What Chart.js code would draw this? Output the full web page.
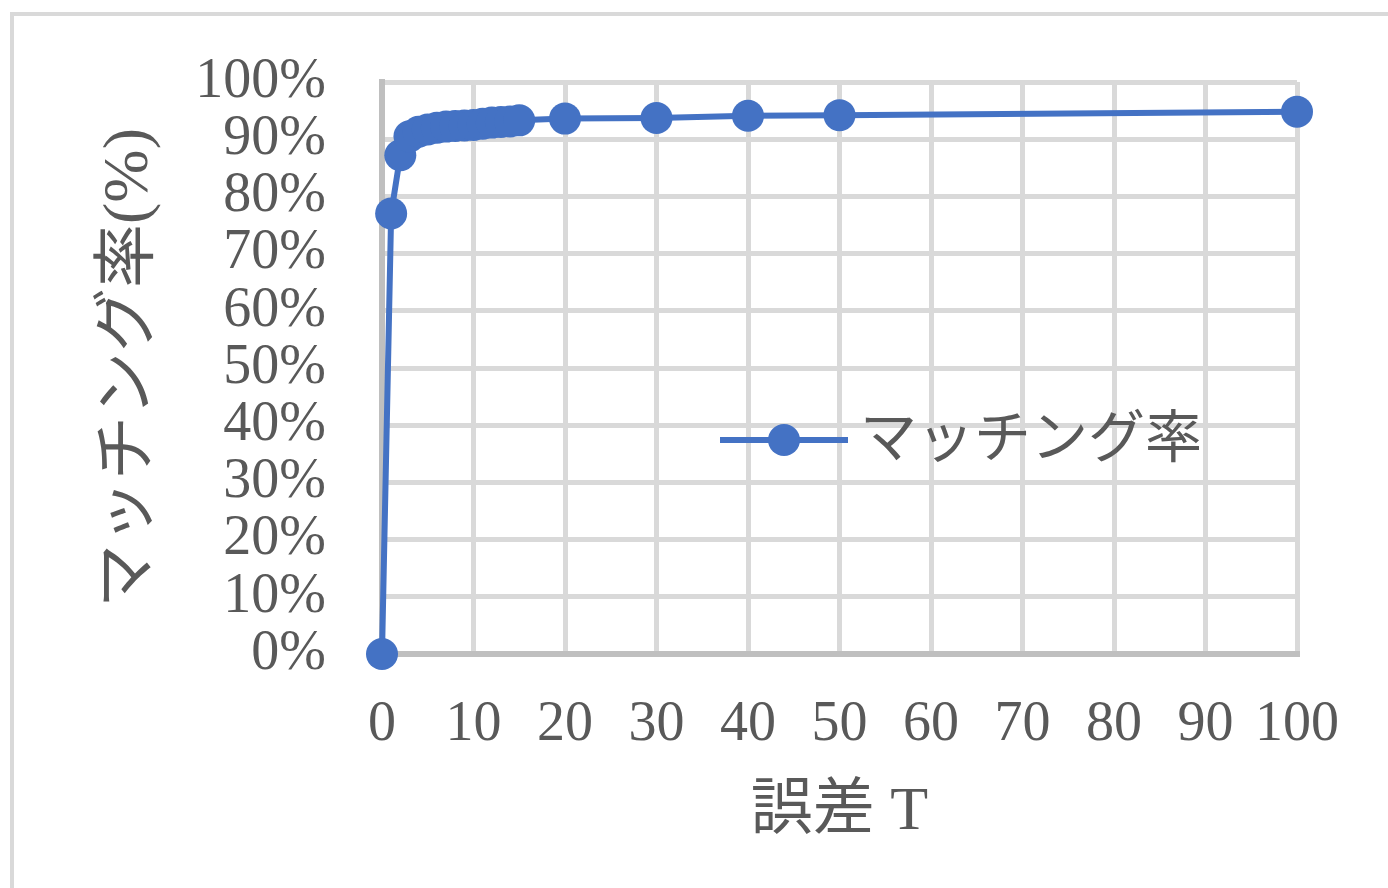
<!DOCTYPE html>
<html>
<head>
<meta charset="utf-8">
<script src="https://cdn.jsdelivr.net/npm/chart.js@4/dist/chart.umd.min.js"></script>
<style>
	html, body { margin: 0; padding: 0; background: #fff; }
	#graficoMatching { display: block; }
</style>
</head>
<body>
<canvas id="graficoMatching" width="1388" height="888"></canvas>
<script>
var erroT = [0, 1, 2, 3, 4, 5, 6, 7, 8, 9, 10, 11, 12, 13, 14, 15, 20, 30, 40, 50, 100];
var taxaMatching = [0, 77, 87.2, 90.5, 91.3, 91.7, 92.0, 92.2, 92.3, 92.4, 92.5, 92.7, 92.9, 93.0, 93.1, 93.3, 93.6, 93.7, 94.1, 94.2, 94.8];
var serieNome = 'マッチング率';
var tituloX = '誤差 T';
var tituloY = 'マッチング率(%)';

var fonte = "'Liberation Serif', 'Noto Sans CJK JP', serif";
var cinzaTexto = '#595959';
var azul = '#4472c4';

var Grafico = Grafico || {};

Grafico.MatchingPorErro = (function() {

	function MatchingPorErro() {
		this.ctx = document.getElementById('graficoMatching').getContext('2d');
	}

	// moldura cinza e legenda dentro da area do grafico
	var moldura = {
		id: 'moldura',
		beforeDraw: function(chart) {
			var c = chart.ctx;
			c.save();
			c.fillStyle = '#fff';
			c.fillRect(0, 0, chart.width, chart.height);
			c.strokeStyle = '#d9d9d9';
			c.lineWidth = 4;
			c.strokeRect(12, 14, chart.width + 20, chart.height + 20);
			c.restore();
		}
	};

	var legenda = {
		id: 'legendaInterna',
		afterDraw: function(chart) {
			var c = chart.ctx;
			var ds = chart.data.datasets[0];
			var y = 440;
			c.save();
			c.strokeStyle = ds.borderColor;
			c.lineWidth = ds.borderWidth;
			c.beginPath();
			c.moveTo(720, y);
			c.lineTo(848, y);
			c.stroke();
			c.fillStyle = ds.pointBackgroundColor;
			c.beginPath();
			c.arc(784, y, ds.pointRadius, 0, Math.PI * 2);
			c.fill();
			c.fillStyle = cinzaTexto;
			c.font = '57px ' + fonte;
			c.textBaseline = 'middle';
			c.fillText(ds.label, 860, y + 2);
			c.restore();
		}
	};

	MatchingPorErro.prototype.iniciar = function() {
		var pontos = erroT.map(function(x, i) {
			return { x: x, y: taxaMatching[i] };
		});

		new Chart(this.ctx, {
			type: 'scatter',
			data: {
				datasets: [{
					label: serieNome,
					data: pontos,
					showLine: true,
					clip: false,
					borderColor: azul,
					borderWidth: 6,
					pointBackgroundColor: azul,
					pointBorderColor: azul,
					pointBorderWidth: 0,
					pointRadius: 16,
					tension: 0
				}]
			},
			options: {
				responsive: false,
				animation: false,
				layout: { padding: { left: 0, top: 82, right: 91, bottom: 0 } },
				plugins: {
					legend: { display: false },
					tooltip: { enabled: false }
				},
				scales: {
					x: {
						type: 'linear',
						min: 0,
						max: 100,
						afterFit: function(scale) { scale.height = 234; },
						ticks: {
							stepSize: 10,
							autoSkip: false,
							maxRotation: 0,
							color: cinzaTexto,
							padding: 0,
							font: { family: fonte, size: 56 }
						},
						// espaco dos rotulos via tickLength (padding mexe na area do grafico)
						grid: { color: '#d9d9d9', lineWidth: 5, tickLength: 38, tickColor: 'rgba(0,0,0,0)' },
						border: { color: '#bfbfbf', width: 6 },
						title: {
							display: true,
							text: tituloX,
							color: cinzaTexto,
							font: { family: fonte, size: 62 },
							padding: { top: 0, bottom: 38 }
						}
					},
					y: {
						type: 'linear',
						min: 0,
						max: 100,
						afterFit: function(scale) { scale.width = 382; },
						ticks: {
							stepSize: 10,
							autoSkip: false,
							color: cinzaTexto,
							padding: 0,
							font: { family: fonte, size: 56 },
							callback: function(v) { return v + '%'; }
						},
						grid: { color: '#d9d9d9', lineWidth: 5, tickLength: 56, tickColor: 'rgba(0,0,0,0)' },
						border: { color: '#bfbfbf', width: 6 },
						title: {
							display: true,
							text: tituloY,
							color: cinzaTexto,
							font: { family: fonte, size: 64 },
							padding: { top: 92, bottom: 0 }
						}
					}
				}
			},
			plugins: [moldura, legenda]
		});
	};

	return MatchingPorErro;
}());

var graficoMatching = new Grafico.MatchingPorErro();
graficoMatching.iniciar();
</script>
</body>
</html>
